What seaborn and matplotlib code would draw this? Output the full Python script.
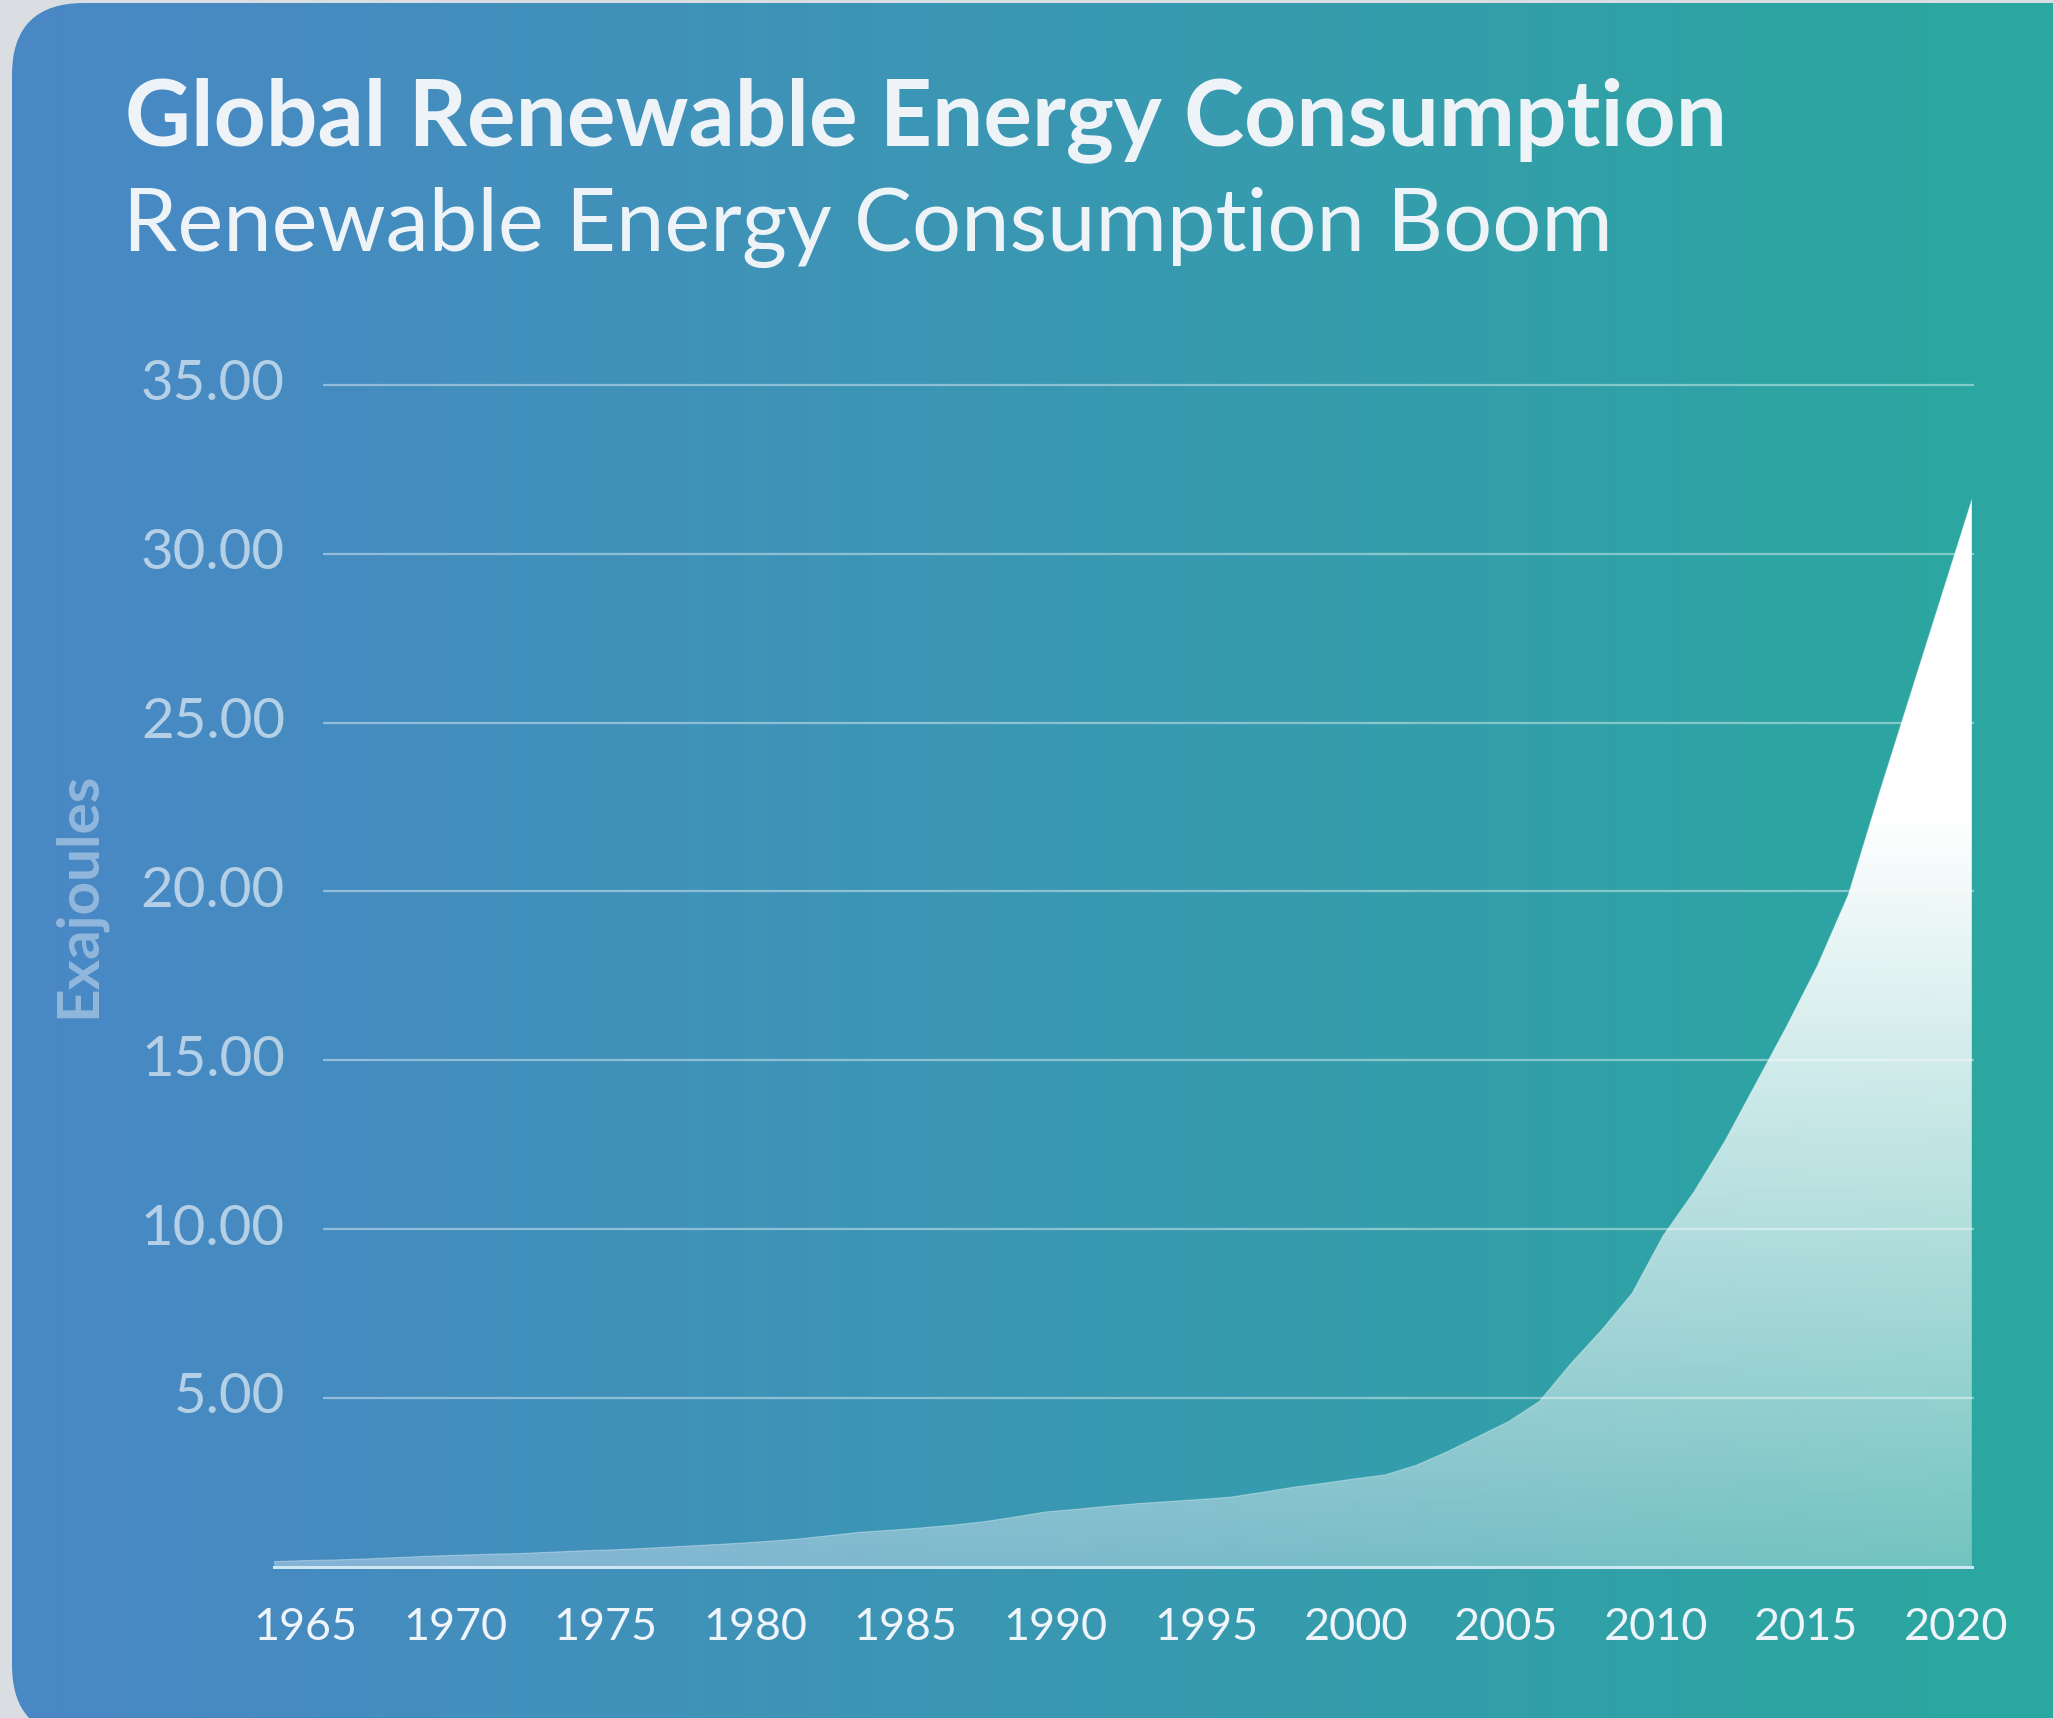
import numpy as np
import matplotlib
matplotlib.use("Agg")
import matplotlib.pyplot as plt
from matplotlib.patches import FancyBboxPatch, PathPatch
import seaborn as sns
import pandas as pd

# Data
years = list(range(1965, 2021))
exajoules = [0.15, 0.18, 0.20, 0.23, 0.27, 0.31, 0.34, 0.37, 0.39, 0.43,
             0.47, 0.50, 0.54, 0.59, 0.64, 0.69, 0.75, 0.82, 0.92, 1.02,
             1.08, 1.15, 1.23, 1.33, 1.47, 1.62, 1.70, 1.79, 1.87, 1.93,
             1.99, 2.06, 2.20, 2.35, 2.47, 2.60, 2.72, 3.00, 3.40, 3.85,
             4.30, 4.90, 6.00, 7.00, 8.10, 9.80, 11.10, 12.60, 14.30, 16.00,
             17.80, 19.90, 22.90, 25.80, 28.70, 31.60]
y_ticks = [5, 10, 15, 20, 25, 30, 35]
x_tick_years = list(range(1965, 2021, 5))
title = "Global Renewable Energy Consumption"
subtitle = "Renewable Energy Consumption Boom"
y_label = "Exajoules"

sns.set_style("white")
plt.rcParams["font.family"] = ["Lato", "DejaVu Sans"]

W, H = 2053, 1718
fig = plt.figure(figsize=(W / 100, H / 100), dpi=100)
fig.patch.set_facecolor("#dadee3")

# background card with horizontal gradient
bg = fig.add_axes([0, 0, 1, 1])
bg.set_xlim(0, W); bg.set_ylim(H, 0); bg.axis("off")
left_c = np.array([0x4a, 0x87, 0xc6]) / 255
right_c = np.array([0x2a, 0xa8, 0x9f]) / 255
t = np.linspace(0, 1, 512)
grad = (left_c[None, :] * (1 - t[:, None]) + right_c[None, :] * t[:, None])[None, :, :]
gim = bg.imshow(grad, extent=[0, W, H, 0], aspect="auto")
card = FancyBboxPatch((12, 3), W + 60, 1734, boxstyle="round,pad=0,rounding_size=72",
                      facecolor="none", edgecolor="none")
bg.add_patch(card)
gim.set_clip_path(card)
bg.set_xlim(0, W); bg.set_ylim(H, 0)

# main axes
x0, x1, y0, y1 = 273.6, 1971.8, 1566.7, 385.0
ax = fig.add_axes([x0 / W, (H - y0) / H, (x1 - x0) / W, (y0 - y1) / H])
ax.patch.set_alpha(0)

df = pd.DataFrame({"year": years, "ej": exajoules})
sns.lineplot(data=df, x="year", y="ej", ax=ax, color="white", linewidth=0.8,
             alpha=0.35, zorder=4)

poly = ax.fill_between(years, exajoules, 0, facecolor="none", edgecolor="none")
clip = PathPatch(poly.get_paths()[0], transform=ax.transData,
                 facecolor="none", edgecolor="none")
ax.add_patch(clip)
v = np.linspace(0, 35, 400)
rgba = np.ones((400, 1, 4))
rgba[:, 0, 3] = np.clip(0.34 + 0.03 * v, 0, 1)
fim = ax.imshow(rgba, extent=[1965, 2020, 0, 35], origin="lower",
                aspect="auto", zorder=2)
fim.set_clip_path(clip)

ax.hlines(y_ticks, 1966.6, 2020.07, colors="white", alpha=0.42, lw=1.6,
          zorder=3, clip_on=False)

ax.set_xlim(1965, 2020)
ax.set_ylim(0, 35)
for s in ["top", "right", "left"]:
    ax.spines[s].set_visible(False)
ax.spines["bottom"].set_color("#cde6f1")
ax.spines["bottom"].set_linewidth(2.2)
ax.spines["bottom"].set_zorder(5)
ax.set_xticks(x_tick_years)
ax.set_yticks([])
ax.tick_params(axis="x", length=13, width=1.6, color="#cde6f1",
               labelbottom=False, direction="out")
ax.set_xlabel(""); ax.set_ylabel("")

# texts
fig.canvas.draw()
rend = fig.canvas.get_renderer()


def fit(txt, target, dim="width"):
    bb = txt.get_window_extent(rend)
    cur = bb.width if dim == "width" else bb.height
    txt.set_fontsize(txt.get_fontsize() * target / cur)


t1 = fig.text(125 / W, 1 - 145 / H, title, fontsize=55, fontweight="bold",
              color="#eef3f8", va="baseline")
fit(t1, 1600)
t2 = fig.text(123 / W, 1 - 251 / H, subtitle, fontsize=55, fontweight="normal",
              color="#eef3f8", va="baseline")
fit(t2, 1490)
t3 = fig.text(78 / W, 1 - 895 / H, y_label, rotation=90, ha="center", va="center",
              fontsize=30, fontweight="bold", color="white", alpha=0.4)
fit(t3, 246, "height")

ylabs = []
for val in y_ticks:
    tx = ax.text(1965.37, val, f"{val:.2f}", ha="right", va="center", fontsize=40,
                 color="white", alpha=0.6, clip_on=False)
    ylabs.append(tx)
fit(ylabs[-1], 144)
for tx in ylabs[:-1]:
    tx.set_fontsize(ylabs[-1].get_fontsize())

xlabs = []
for i, yr in enumerate(x_tick_years):
    xc = 1966.02 + i * 4.862
    tx = ax.text(xc, -2.17, str(yr), ha="center", va="baseline", fontsize=30,
                 color="#eef4fa", clip_on=False)
    xlabs.append(tx)
fit(xlabs[0], 104)
for tx in xlabs[1:]:
    tx.set_fontsize(xlabs[0].get_fontsize())

fig.savefig("out.png", dpi=100, facecolor=fig.get_facecolor())
